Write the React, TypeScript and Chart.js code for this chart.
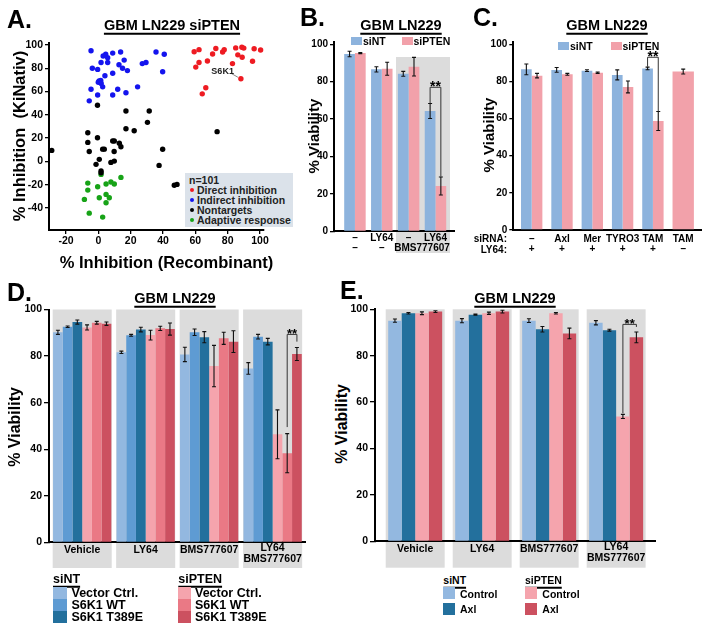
import React, { useEffect, useRef } from 'react';
import { Chart, registerables } from 'chart.js';

Chart.register(...registerables);

const FONT = '"Liberation Sans", Arial, Helvetica, sans-serif';
Chart.defaults.font.family = FONT;
Chart.defaults.font.weight = 'bold';
Chart.defaults.color = '#000';

// ---------------- Panel A data ----------------
const directInhibition = [
  [59.3, 94.2], [62.3, 96], [60.3, 81], [62.3, 85], [67.5, 86.2], [70.7, 92.3], [72.7, 97],
  [76.9, 94], [77.9, 96], [85, 97.5], [86.3, 91.5], [83, 84], [66.5, 63.3], [64.3, 58],
  [88.2, 71], [88.8, 98], [90, 97.3], [89, 89.4], [95.4, 86], [96.4, 96.8], [100.4, 95.7],
];
const indirectInhibition = [
  [-4.5, 95.1], [4.6, 92], [5.8, 89], [8.9, 93], [13.8, 94], [1.7, 85], [5.8, 85], [-3.7, 80],
  [-0.4, 79], [12.8, 83], [16, 87], [15, 80], [18, 78], [4.1, 73.6], [8.9, 75.7], [0.5, 69],
  [1.5, 69.5], [0, 68], [1.8, 67], [2.7, 64], [-4.5, 62], [-5.6, 52], [-0.4, 57], [8.9, 57],
  [12, 62], [17.1, 59], [24.3, 64], [27.2, 84], [29.5, 85], [35.7, 94], [40.8, 92], [39.8, 77],
  [3, 90.5],
];
const nontargets = [
  [-0.5, 48.2], [17.1, 43.3], [31.5, 43.3], [17.1, 28], [22.2, 26.3], [30.4, 33.5], [73.5, 25.5],
  [-6.5, 24.6], [-0.5, 20.3], [-6.5, 16.3], [-5.6, 8.5], [2.7, 10.5], [3.7, 10.5], [8.9, 17.5],
  [9.9, 17.5], [13, 15.5], [14, 12.6], [9.8, 8.4], [-28.8, 9.4], [39.8, 10.4], [0.6, 1.7],
  [-1.4, -2.6], [7.8, -0.9], [9.9, 0.2], [1.7, -8.3], [1.7, -9.8], [37.6, -3.5], [47, -20.6],
  [48.7, -19.8],
];
const adaptiveResponse = [
  [-6.5, -18.7], [-6.5, -24.7], [-8.6, -32.7], [-5.6, -44.5], [2.7, -47.9], [-0.4, -21.8],
  [1.7, -11.2], [4.8, -19.5], [7.8, -17.8], [9.9, -19.5], [14, -13.8], [4.8, -28.4],
  [6.8, -31.3], [0.6, -31.3], [4.8, -35.6],
];
const s6k1Point = [88.2, 71];
const aXTicks = [-20, 0, 20, 40, 60, 80, 100];
const aYTicks = [-40, -20, 0, 20, 40, 60, 80, 100];
const viabilityTicks = [0, 20, 40, 60, 80, 100];

// ---------------- Panel B data ----------------
const bRow1 = ['–', 'LY64', '–', 'LY64'];
const bRow2 = ['–', '–', '', ''];
const bSpan = 'BMS777607';
const bSiNT = [94.8, 86.6, 84.2, 64.3];
const bSiNTErr = [1.5, 1.4, 1.3, 4.0];
const bSiPTEN = [95.3, 86.9, 88.0, 24.2];
const bSiPTENErr = [0.3, 3.5, 5.0, 4.8];

// ---------------- Panel C data ----------------
const cSiRNA = ['–', 'Axl', 'Mer', 'TYRO3', 'TAM', 'TAM'];
const cLY64 = ['+', '+', '+', '+', '+', '–'];
const cSiNT = [86.5, 86.2, 85.8, 83.5, 87.0, null];
const cSiNTErr = [2.9, 1.3, 0.5, 2.7, 0.7, null];
const cSiPTEN = [83.1, 83.8, 84.7, 77.0, 58.7, 85.3];
const cSiPTENErr = [1.2, 0.5, 0.4, 3.2, 5.1, 1.3];

// ---------------- Panel D data ----------------
const treatments = [['Vehicle'], ['LY64'], ['BMS777607'], ['LY64', 'BMS777607']];
const dSiNTVector = [90.2, 81.6, 80.7, 74.7];
const dSiNTVectorErr = [0.9, 0.5, 3.1, 2.5];
const dSiNTWT = [92.6, 88.9, 90.2, 88.3];
const dSiNTWTErr = [0.3, 0.4, 1.4, 1.0];
const dSiNTT389E = [94.6, 91.4, 88.1, 86.2];
const dSiNTT389EErr = [0.9, 1.0, 2.4, 1.4];
const dSiPTENVector = [92.3, 89.0, 75.7, 46.4];
const dSiPTENVectorErr = [1.1, 2.1, 8.9, 10.5];
const dSiPTENWT = [94.3, 91.9, 87.6, 38.3];
const dSiPTENWTErr = [0.6, 0.9, 2.6, 8.4];
const dSiPTENT389E = [93.9, 91.6, 86.2, 80.9];
const dSiPTENT389EErr = [0.7, 2.6, 4.7, 2.8];

// ---------------- Panel E data ----------------
const eSiNTControl = [95.1, 95.1, 95.1, 94.2];
const eSiNTControlErr = [0.7, 0.9, 0.8, 0.9];
const eSiNTAxl = [98.3, 97.7, 91.4, 91.0];
const eSiNTAxlErr = [0.3, 0.2, 1.2, 0.4];
const eSiPTENControl = [98.3, 98.3, 98.3, 53.8];
const eSiPTENControlErr = [0.6, 0.5, 0.3, 0.9];
const eSiPTENAxl = [99.0, 99.0, 89.6, 87.9];
const eSiPTENAxlErr = [0.4, 0.6, 2.3, 2.3];

// ---------------- colours ----------------
const C_BLUE = '#8db3dd';
const C_PINK = '#f2a1aa';
const C_LBLUE = '#93b8e0';
const C_MBLUE = '#5e9bd3';
const C_DBLUE = '#23709d';
const C_LPINK = '#f5a4ad';
const C_MPINK = '#ea7985';
const C_DRED = '#cc5160';
const C_GRAY = '#dcdcdc';

// ---------------- plugins ----------------
const groupBoxes = (id: string, boxes: any[], bottomOffset: number) => ({
  id,
  beforeDraw(chart: any) {
    const { ctx, chartArea } = chart;
    const x = chart.scales.x, y = chart.scales.y;
    ctx.save();
    ctx.fillStyle = C_GRAY;
    for (const b of boxes) {
      const x1 = x.getPixelForValue(b.from), x2 = x.getPixelForValue(b.to);
      const yt = y.getPixelForValue(b.top);
      ctx.fillRect(x1, yt, x2 - x1, chartArea.bottom + bottomOffset - yt);
    }
    ctx.restore();
  },
});

const errorBars = (id: string, errs: any[], cap = 4) => ({
  id,
  afterDatasetsDraw(chart: any) {
    const { ctx } = chart;
    const y = chart.scales.y;
    ctx.save();
    ctx.strokeStyle = '#111';
    ctx.lineWidth = 1.1;
    chart.data.datasets.forEach((ds: any, i: number) => {
      const e = errs[i];
      if (!e) return;
      const meta = chart.getDatasetMeta(i);
      meta.data.forEach((el: any, j: number) => {
        const v = ds.data[j].y;
        const err = e[j];
        if (v == null || err == null) return;
        const xp = el.x;
        const y1 = y.getPixelForValue(v + err), y2 = y.getPixelForValue(v - err);
        ctx.beginPath();
        ctx.moveTo(xp, y1); ctx.lineTo(xp, y2);
        ctx.moveTo(xp - cap / 2, y1); ctx.lineTo(xp + cap / 2, y1);
        ctx.moveTo(xp - cap / 2, y2); ctx.lineTo(xp + cap / 2, y2);
        ctx.stroke();
      });
    });
    ctx.restore();
  },
});

const bracket = (id: string, b: any) => ({
  id,
  afterDatasetsDraw(chart: any) {
    const { ctx } = chart;
    const y = chart.scales.y;
    const x1 = chart.getDatasetMeta(b.ds1).data[b.i1].x;
    const x2 = chart.getDatasetMeta(b.ds2).data[b.i2].x;
    const yt = y.getPixelForValue(b.top);
    ctx.save();
    ctx.strokeStyle = '#333';
    ctx.lineWidth = 1;
    ctx.beginPath();
    ctx.moveTo(x1, y.getPixelForValue(b.bot1));
    ctx.lineTo(x1, yt);
    ctx.lineTo(x2, yt);
    ctx.lineTo(x2, y.getPixelForValue(b.bot2));
    ctx.stroke();
    ctx.fillStyle = '#000';
    ctx.font = `bold ${b.size}px ${FONT}`;
    ctx.textAlign = 'center';
    ctx.textBaseline = 'alphabetic';
    ctx.fillText('**', (x1 + x2) / 2, yt + b.size * 0.3);
    ctx.restore();
  },
});

const axisLabels = (id: string, items: any[], size: number) => ({
  id,
  afterDraw(chart: any) {
    const { ctx, chartArea } = chart;
    const x = chart.scales.x;
    ctx.save();
    ctx.fillStyle = '#000';
    ctx.font = `bold ${size}px ${FONT}`;
    ctx.textAlign = 'center';
    ctx.textBaseline = 'middle';
    for (const it of items) {
      ctx.fillText(it.text, x.getPixelForValue(it.v), chartArea.bottom + it.dy);
    }
    ctx.restore();
  },
});

const s6k1Label = {
  id: 's6k1',
  afterDatasetsDraw(chart: any) {
    const { ctx } = chart;
    const px = chart.scales.x.getPixelForValue(s6k1Point[0]);
    const py = chart.scales.y.getPixelForValue(s6k1Point[1]);
    ctx.save();
    ctx.strokeStyle = '#666';
    ctx.lineWidth = 0.8;
    ctx.beginPath();
    ctx.moveTo(px - 10, py - 5.5);
    ctx.lineTo(px - 3, py - 1.5);
    ctx.stroke();
    ctx.fillStyle = '#222';
    ctx.font = `bold 9px ${FONT}`;
    ctx.textAlign = 'right';
    ctx.textBaseline = 'middle';
    ctx.fillText('S6K1', px - 7, py - 7);
    ctx.restore();
  },
};

// ---------------- helpers ----------------
const yAxis = (min: number, max: number, ticks: number[], size: number, tickLen: number) => ({
  type: 'linear',
  min, max,
  afterBuildTicks: (s: any) => { s.ticks = ticks.map((v) => ({ value: v })); },
  ticks: { color: '#000', font: { size, weight: 'bold' }, padding: 2 },
  grid: { display: true, drawOnChartArea: false, drawTicks: true, tickLength: tickLen, color: '#000', lineWidth: 1.3 },
  border: { display: true, color: '#000', width: 2 },
});

const xBarAxis = (min: number, max: number, n: number) => ({
  type: 'linear',
  min, max, offset: false,
  afterBuildTicks: (s: any) => { s.ticks = Array.from({ length: n }, (_, i) => ({ value: i })); },
  ticks: { display: false },
  grid: { display: true, drawOnChartArea: false, drawTicks: false },
  border: { display: true, color: '#000', width: 2 },
});

const barSet = (label: string, vals: any[], color: string, catPct: number) => ({
  label,
  data: vals.map((v, i) => ({ x: i, y: v })),
  backgroundColor: color,
  borderWidth: 0,
  categoryPercentage: catPct,
  barPercentage: 1,
  skipNull: true,
});

const baseOptions = () => ({
  animation: false,
  responsive: false,
  maintainAspectRatio: false,
  devicePixelRatio: 1,
  events: [],
  plugins: { legend: { display: false }, tooltip: { enabled: false }, title: { display: false } },
});

function ChartBox({ canvas, area, make }: any) {
  const ref = useRef<HTMLCanvasElement>(null);
  useEffect(() => {
    const cfg = make();
    const yW = area.l - canvas.l;
    const xH = canvas.b - area.b;
    cfg.options.layout = { padding: { left: 0, top: area.t - canvas.t, right: canvas.r - area.r, bottom: 0 } };
    cfg.options.scales.x.afterFit = (s: any) => { s.height = xH; };
    cfg.options.scales.y.afterFit = (s: any) => { s.width = yW; };
    const chart = new Chart(ref.current as HTMLCanvasElement, cfg);
    return () => chart.destroy();
  }, []);
  const w = canvas.r - canvas.l, h = canvas.b - canvas.t;
  return (
    <canvas
      ref={ref}
      width={w}
      height={h}
      style={{ position: 'absolute', left: canvas.l, top: canvas.t, width: w, height: h }}
    />
  );
}

const T = ({ x, y, size, align = 'center', underline = false, color = '#000', children }: any) => (
  <div
    style={{
      position: 'absolute', left: x, top: y,
      transform: align === 'center' ? 'translate(-50%,-50%)' : align === 'right' ? 'translate(-100%,-50%)' : 'translate(0,-50%)',
      font: `bold ${size}px ${FONT}`, lineHeight: 1, whiteSpace: 'pre', color,
      textDecoration: underline ? 'underline' : 'none',
      textDecorationThickness: underline ? '1.5px' : undefined,
      textUnderlineOffset: underline ? '3px' : undefined,
    }}
  >
    {children}
  </div>
);

const VT = ({ x, y, size, children }: any) => (
  <div
    style={{
      position: 'absolute', left: x, top: y,
      transform: 'translate(-50%,-50%) rotate(-90deg)',
      font: `bold ${size}px ${FONT}`, lineHeight: 1, whiteSpace: 'pre', color: '#000',
    }}
  >
    {children}
  </div>
);

const Sw = ({ x, y, w, h, color }: any) => (
  <div style={{ position: 'absolute', left: x, top: y, width: w, height: h, background: color }} />
);

const Dot = ({ x, y, color }: any) => (
  <div style={{ position: 'absolute', left: x - 2, top: y - 2, width: 4, height: 4, borderRadius: 2, background: color }} />
);

// ---------------- chart configs ----------------
const makeA = () => {
  const ds = (label: string, pts: number[][], color: string) => ({
    label,
    data: pts.map((p) => ({ x: p[0], y: p[1] })),
    backgroundColor: color,
    borderWidth: 0,
    pointRadius: 2.7,
    showLine: false,
  });
  return {
    type: 'scatter',
    data: {
      datasets: [
        ds('Nontargets', nontargets, '#000000'),
        ds('Adaptive response', adaptiveResponse, '#17a317'),
        ds('Indirect inhibition', indirectInhibition, '#1414ee'),
        ds('Direct inhibition', directInhibition, '#ee1b22'),
      ],
    },
    options: {
      ...baseOptions(),
      scales: {
        x: {
          type: 'linear', min: -30.5, max: 102.5,
          afterBuildTicks: (s: any) => { s.ticks = aXTicks.map((v) => ({ value: v })); },
          ticks: { color: '#000', font: { size: 10.5, weight: 'bold' }, padding: 1, maxRotation: 0 },
          grid: { display: true, drawOnChartArea: false, drawTicks: true, tickLength: 4, color: '#000', lineWidth: 1.3 },
          border: { display: true, color: '#000', width: 2 },
        },
        y: yAxis(-59, 101.7, aYTicks, 10.5, 4),
      },
    },
    plugins: [s6k1Label],
  };
};

const makeB = () => ({
  type: 'bar',
  data: {
    datasets: [barSet('siNT', bSiNT, C_BLUE, 0.8), barSet('siPTEN', bSiPTEN, C_PINK, 0.8)],
  },
  options: { ...baseOptions(), scales: { x: xBarAxis(-0.78, 3.69, 4), y: yAxis(0, 101, viabilityTicks, 10, 4) } },
  plugins: [
    groupBoxes('bBoxes', [{ from: 1.53, to: 3.54, top: 93.2 }], 21.7),
    errorBars('bErr', [bSiNTErr, bSiPTENErr]),
    bracket('bBr', { ds1: 0, i1: 3, ds2: 1, i2: 3, top: 77, bot1: 68.4, bot2: 29.2, size: 14 }),
    axisLabels('bLab', [
      ...bRow1.map((t, i) => ({ v: i, text: t, dy: 7 })),
      ...bRow2.map((t, i) => ({ v: i, text: t, dy: 17 })),
      { v: 2.5, text: bSpan, dy: 17 },
    ], 10),
  ],
});

const makeC = () => ({
  type: 'bar',
  data: {
    datasets: [barSet('siNT', cSiNT, C_BLUE, 0.705), barSet('siPTEN', cSiPTEN, C_PINK, 0.705)],
  },
  options: { ...baseOptions(), scales: { x: xBarAxis(-0.607, 5.61, 6), y: yAxis(0, 101, viabilityTicks, 10, 4) } },
  plugins: [
    errorBars('cErr', [cSiNTErr, cSiPTENErr]),
    bracket('cBr', { ds1: 0, i1: 4, ds2: 1, i2: 4, top: 93, bot1: 87.9, bot2: 63.9, size: 14 }),
    axisLabels('cLab', [
      ...cSiRNA.map((t, i) => ({ v: i, text: t, dy: 9 })),
      ...cLY64.map((t, i) => ({ v: i, text: t, dy: 19.5 })),
    ], 10),
  ],
});

const treatmentLabels = (size: number) =>
  treatments.flatMap((lines, i) =>
    lines.length === 1
      ? [{ v: i, text: lines[0], dy: 7.8 }]
      : lines.map((t, k) => ({ v: i, text: t, dy: 5.6 + k * 11.6 }))
  );

const makeD = () => ({
  type: 'bar',
  data: {
    datasets: [
      barSet('siNT Vector Ctrl.', dSiNTVector, C_LBLUE, 0.918),
      barSet('siNT S6K1 WT', dSiNTWT, C_MBLUE, 0.918),
      barSet('siNT S6K1 T389E', dSiNTT389E, C_DBLUE, 0.918),
      barSet('siPTEN Vector Ctrl.', dSiPTENVector, C_LPINK, 0.918),
      barSet('siPTEN S6K1 WT', dSiPTENWT, C_MPINK, 0.918),
      barSet('siPTEN S6K1 T389E', dSiPTENT389E, C_DRED, 0.918),
    ],
  },
  options: { ...baseOptions(), scales: { x: xBarAxis(-0.523, 3.51, 4), y: yAxis(0, 100, viabilityTicks, 10.5, 5) } },
  plugins: [
    groupBoxes('dBoxes', treatments.map((_, i) => ({ from: i - 0.465, to: i + 0.465, top: 100 })), 25.7),
    errorBars('dErr', [dSiNTVectorErr, dSiNTWTErr, dSiNTT389EErr, dSiPTENVectorErr, dSiPTENWTErr, dSiPTENT389EErr]),
    bracket('dBr', { ds1: 4, i1: 3, ds2: 5, i2: 3, top: 89.3, bot1: 49.5, bot2: 86.2, size: 13 }),
    axisLabels('dLab', treatmentLabels(10.5), 10.5),
  ],
});

const makeE = () => ({
  type: 'bar',
  data: {
    datasets: [
      barSet('siNT Control', eSiNTControl, C_LBLUE, 0.806),
      barSet('siNT Axl', eSiNTAxl, C_DBLUE, 0.806),
      barSet('siPTEN Control', eSiPTENControl, C_LPINK, 0.806),
      barSet('siPTEN Axl', eSiPTENAxl, C_DRED, 0.806),
    ],
  },
  options: { ...baseOptions(), scales: { x: xBarAxis(-0.6, 3.58, 4), y: yAxis(0, 100, viabilityTicks, 10.5, 5) } },
  plugins: [
    groupBoxes('eBoxes', treatments.map((_, i) => ({ from: i - 0.44, to: i + 0.44, top: 100 })), 26.4),
    errorBars('eErr', [eSiNTControlErr, eSiNTAxlErr, eSiPTENControlErr, eSiPTENAxlErr]),
    bracket('eBr', { ds1: 2, i1: 3, ds2: 3, i2: 3, top: 93.5, bot1: 55.2, bot2: 92.4, size: 13 }),
    axisLabels('eLab', treatmentLabels(10.5), 10.5),
  ],
});

export default function App() {
  return (
    <div style={{ position: 'absolute', left: 0, top: 0, width: 704, height: 631, overflow: 'hidden', background: '#fff' }}>
      <ChartBox canvas={{ l: 20, t: 30, r: 282, b: 256 }} area={{ l: 49, t: 43, r: 264, b: 230 }} make={makeA} />
      <ChartBox canvas={{ l: 300, t: 28, r: 466, b: 262 }} area={{ l: 334, t: 42.4, r: 454, b: 231.3 }} make={makeB} />
      <ChartBox canvas={{ l: 485, t: 28, r: 704, b: 262 }} area={{ l: 513.3, t: 42.4, r: 701.7, b: 230 }} make={makeC} />
      <ChartBox canvas={{ l: 18, t: 296, r: 318, b: 572 }} area={{ l: 49, t: 309.5, r: 305, b: 542.3 }} make={makeD} />
      <ChartBox canvas={{ l: 350, t: 296, r: 668, b: 572 }} area={{ l: 375, t: 309.3, r: 655, b: 541.3 }} make={makeE} />

      {/* Panel letters */}
      <T x={7} y={18.5} size={25} align="left">A.</T>
      <T x={300} y={17} size={25} align="left">B.</T>
      <T x={473} y={17} size={25} align="left">C.</T>
      <T x={7} y={292} size={25} align="left">D.</T>
      <T x={340} y={290} size={25} align="left">E.</T>

      {/* Titles */}
      <T x={172} y={25} size={14.5} underline>GBM LN229 siPTEN</T>
      <T x={401} y={25} size={14.5} underline>GBM LN229</T>
      <T x={607} y={25} size={14.5} underline>GBM LN229</T>
      <T x={175} y={297.5} size={14.5} underline>GBM LN229</T>
      <T x={515} y={297.5} size={14.5} underline>GBM LN229</T>

      {/* Axis titles */}
      <VT x={18.6} y={136} size={16.5}>{'% Inhibition  (KiNativ)'}</VT>
      <T x={166.5} y={262} size={16.5}>% Inhibition (Recombinant)</T>
      <VT x={312.6} y={136} size={15}>% Viability</VT>
      <VT x={487.6} y={135} size={15}>% Viability</VT>
      <VT x={15.4} y={427} size={16}>% Viability</VT>
      <VT x={342} y={424} size={16}>% Viability</VT>

      {/* Panel A legend */}
      <div style={{ position: 'absolute', left: 185, top: 173, width: 108, height: 54, background: '#dbe2ea' }} />
      <T x={189} y={180} size={10.5} align="left" color="#222">n=101</T>
      <Dot x={192} y={189.5} color="#ee1b22" />
      <T x={197} y={189.5} size={10.5} align="left" color="#222">Direct inhibition</T>
      <Dot x={192} y={199.5} color="#1414ee" />
      <T x={197} y={199.5} size={10.5} align="left" color="#222">Indirect inhibition</T>
      <Dot x={192} y={209.5} color="#000000" />
      <T x={197} y={209.5} size={10.5} align="left" color="#222">Nontargets</T>
      <Dot x={192} y={220} color="#17a317" />
      <T x={197} y={220} size={10.5} align="left" color="#222">Adaptive response</T>

      {/* Panel B legend */}
      <Sw x={351} y={36.5} w={11} h={8.5} color={C_BLUE} />
      <T x={363} y={41} size={10.5} align="left">siNT</T>
      <Sw x={402} y={36.5} w={11} h={8.5} color={C_PINK} />
      <T x={413.5} y={41} size={10.5} align="left">siPTEN</T>

      {/* Panel C legend */}
      <Sw x={558} y={41.5} w={11} h={8.5} color={C_BLUE} />
      <T x={570} y={46} size={10.5} align="left">siNT</T>
      <Sw x={611} y={41.5} w={11} h={8.5} color={C_PINK} />
      <T x={622.5} y={46} size={10.5} align="left">siPTEN</T>
      <T x={507} y={239} size={10} align="right">siRNA:</T>
      <T x={507} y={249.5} size={10} align="right">LY64:</T>

      {/* Panel D legend */}
      <T x={53} y={578.5} size={12.5} align="left" underline>siNT</T>
      <Sw x={53.3} y={586.7} w={13.4} h={12} color={C_LBLUE} />
      <Sw x={53.3} y={599.2} w={13.4} h={11.6} color={C_MBLUE} />
      <Sw x={53.3} y={611.2} w={13.4} h={12} color={C_DBLUE} />
      <T x={71.5} y={592.7} size={12.5} align="left">Vector Ctrl.</T>
      <T x={71.5} y={604.5} size={12.5} align="left">S6K1 WT</T>
      <T x={71.5} y={616.8} size={12.5} align="left">S6K1 T389E</T>
      <T x={178.3} y={578.5} size={12.5} align="left" underline>siPTEN</T>
      <Sw x={178.3} y={586.7} w={12.4} h={12} color={C_LPINK} />
      <Sw x={178.3} y={599.2} w={12.4} h={11.6} color={C_MPINK} />
      <Sw x={178.3} y={611.2} w={12.4} h={12} color={C_DRED} />
      <T x={195} y={592.7} size={12.5} align="left">Vector Ctrl.</T>
      <T x={195} y={604.5} size={12.5} align="left">S6K1 WT</T>
      <T x={195} y={616.8} size={12.5} align="left">S6K1 T389E</T>

      {/* Panel E legend */}
      <T x={443.3} y={580} size={10.5} align="left" underline>siNT</T>
      <Sw x={443.3} y={587} w={11.7} h={12.3} color={C_LBLUE} />
      <Sw x={443.3} y={602.7} w={11.7} h={12.3} color={C_DBLUE} />
      <T x={460} y={594} size={10.5} align="left">Control</T>
      <T x={460} y={608.5} size={10.5} align="left">Axl</T>
      <T x={525} y={580} size={10.5} align="left" underline>siPTEN</T>
      <Sw x={525} y={587} w={11.7} h={12.3} color={C_LPINK} />
      <Sw x={525} y={602.7} w={11.7} h={12.3} color={C_DRED} />
      <T x={542.3} y={594} size={10.5} align="left">Control</T>
      <T x={542.3} y={608.5} size={10.5} align="left">Axl</T>
    </div>
  );
}
